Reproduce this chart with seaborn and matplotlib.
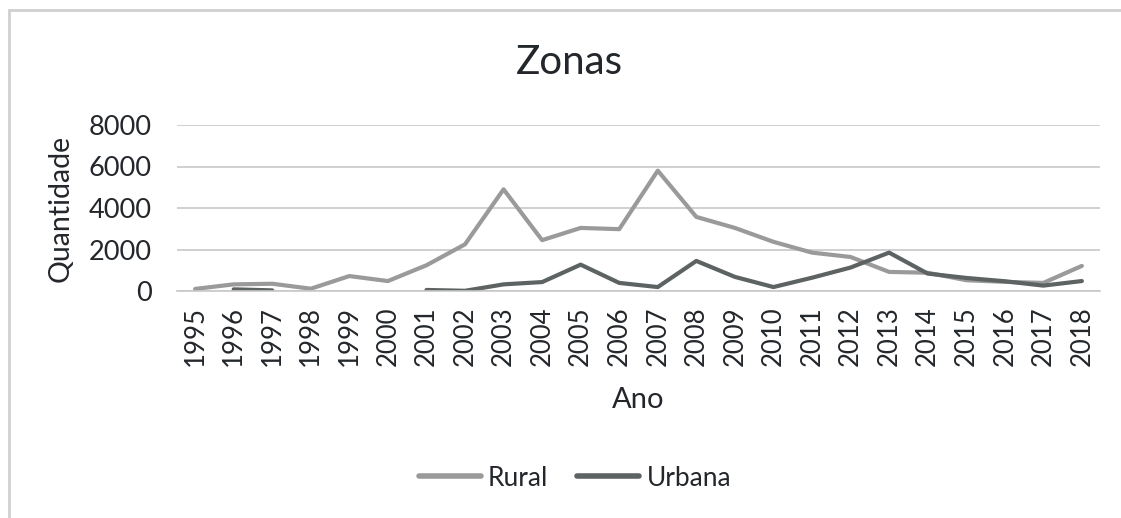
import numpy as np
import pandas as pd
import matplotlib
matplotlib.use("Agg")
import matplotlib.pyplot as plt
import seaborn as sns
from matplotlib.patches import Rectangle

# data
anos = [str(a) for a in range(1995, 2019)]
rural = [100, 320, 350, 110, 720, 480, 1240, 2250, 4900, 2450, 3040, 2980,
         5800, 3570, 3040, 2370, 1850, 1640, 920, 880, 520, 440, 390, 1210]
urbana = [np.nan, 80, 30, np.nan, np.nan, np.nan, 50, 10, 320, 430, 1270, 390,
          190, 1450, 680, 190, 640, 1130, 1850, 840, 630, 470, 260, 480]

# long table; a segment id keeps the gaps in Urbana
rows = []
for i, a in enumerate(anos):
    rows.append({"Ano": a, "Quantidade": rural[i], "Zona": "Rural", "seg": "r"})
seg = 0
prev_nan = True
for i, a in enumerate(anos):
    if np.isnan(urbana[i]):
        prev_nan = True
        continue
    if prev_nan:
        seg += 1
        prev_nan = False
    rows.append({"Ano": a, "Quantidade": urbana[i], "Zona": "Urbana", "seg": "u%d" % seg})
df = pd.DataFrame(rows)

sns.set_theme(style="white")
plt.rcParams["font.family"] = ["Lato", "DejaVu Sans"]
txt = "#23272b"

fig = plt.figure(figsize=(11.21, 5.18), dpi=100)
ax = fig.add_axes([177 / 1121, 1 - 291 / 518, 923 / 1121, 166 / 518])

sns.lineplot(data=df, x="Ano", y="Quantidade", hue="Zona", units="seg",
             estimator=None, palette={"Rural": "#9a9a9a", "Urbana": "#5d6262"},
             linewidth=3.0, ax=ax, sort=False)

ax.set_xlim(-0.47, 23.47)
ax.set_ylim(0, 8000)
ax.set_yticks([0, 2000, 4000, 6000, 8000])
ax.yaxis.grid(True, color="#c8c8c8", linewidth=1.2)
ax.set_axisbelow(True)
for s in ["top", "right", "left"]:
    ax.spines[s].set_visible(False)
ax.spines["bottom"].set_color("#c8c8c8")
ax.spines["bottom"].set_linewidth(1.2)
ax.tick_params(axis="x", rotation=90, labelsize=18.5, colors=txt, length=0, pad=11)
ax.tick_params(axis="y", labelsize=19.5, colors=txt, length=0, pad=18)

ax.set_xlabel("Ano", fontsize=21, color=txt, labelpad=15)
ax.set_ylabel("Quantidade", fontsize=20.5, color=txt, labelpad=11)
fig.text(0.508, 1 - 63 / 518, "Zonas", fontsize=29, color=txt, ha="center", va="center")

leg = ax.legend(loc="center", bbox_to_anchor=(0.513, 1 - 478 / 518), bbox_transform=fig.transFigure,
                ncol=2, frameon=False, fontsize=19, handlelength=2.35,
                columnspacing=1.1, handletextpad=0.27)
for t in leg.get_texts():
    t.set_color(txt)
for l in leg.get_lines():
    l.set_linewidth(4)

# outer chart frame
fig.patches.append(Rectangle((9 / 1121, -0.2), 1.2, 1 - 10 / 518 + 0.2,
                             transform=fig.transFigure, fill=False,
                             edgecolor="#d0d0d0", linewidth=2))

fig.savefig("out.png", dpi=100)
